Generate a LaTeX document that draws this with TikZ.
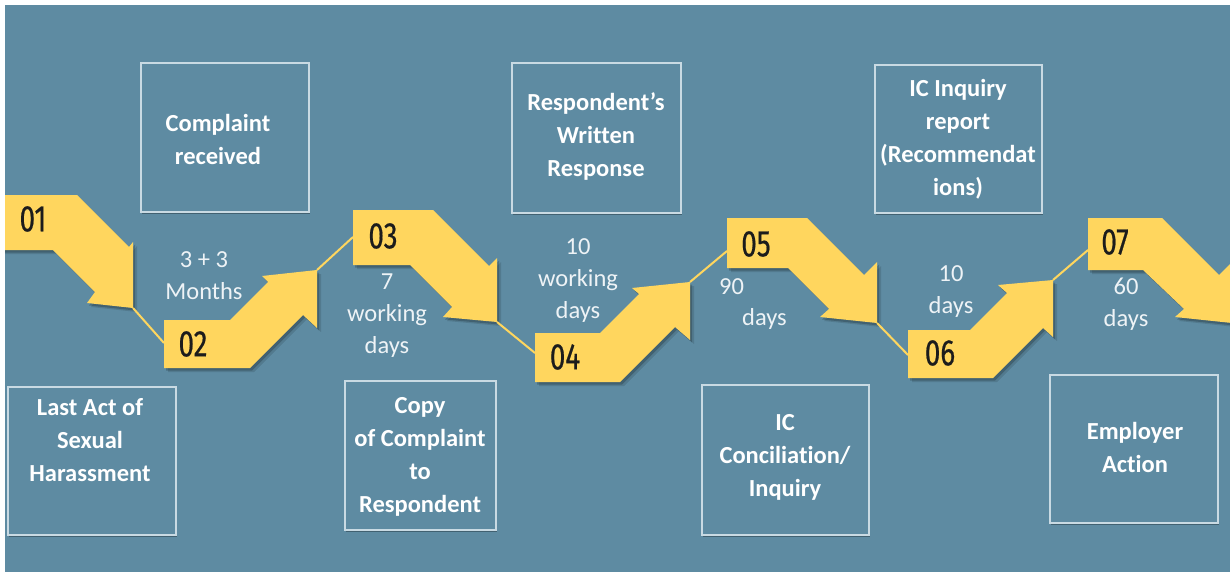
\documentclass[tikz,border=0pt]{standalone}
\usepackage{fontspec}
\setmainfont[Ligatures={TeX,NoCommon}]{Carlito}
\newfontfamily\numfont[FakeStretch=0.75,FakeBold=0.5]{Fira Sans}
\usetikzlibrary{shadows}
\definecolor{bgc}{HTML}{5E8BA2}
\definecolor{ylw}{HTML}{FFD65E}
\definecolor{boxc}{HTML}{C9DAE3}
\definecolor{numc}{HTML}{1C1C1C}
\definecolor{lblc}{HTML}{EEF3F6}
\newcommand\yshape[1]{%
  \begin{scope}[shift={(4,4)}]\fill[black,opacity=.12] #1;\end{scope}
  \begin{scope}[shift={(2,2.5)}]\fill[black,opacity=.2] #1;\end{scope}
  \fill[ylw] #1;}
\begin{document}
\begin{tikzpicture}[x=1pt,y=-1pt,
  boxs/.style={draw=boxc, fill=bgc, line width=1.5pt, inner sep=0pt,
    drop shadow={shadow xshift=1pt, shadow yshift=-1.5pt, opacity=.3, fill=black}},
  boxt/.style={text=white, font=\bfseries\fontsize{24.5}{33}\selectfont, align=center, inner sep=0pt},
  tl/.style={text=lblc, font=\fontsize{24.5}{32}\selectfont, align=center, inner sep=0pt},
  num/.style={text=numc, font=\numfont\fontsize{37}{37}\selectfont, inner sep=0pt},
  conn/.style={draw=ylw, line width=2pt}]
\useasboundingbox (0,0) rectangle (1230,575);
\fill[white] (0,0) rectangle (1230,575);
\fill[bgc] (5,5) rectangle (1230,572);

% boxes
\node[boxs, minimum width=168pt, minimum height=149pt] (b1) at (225,137.5) {};
\node[boxs, minimum width=169pt, minimum height=150pt] (b2) at (596.5,138) {};
\node[boxs, minimum width=167pt, minimum height=148pt] (b3) at (958.5,139) {};
\node[boxs, minimum width=168pt, minimum height=148pt] (b4) at (92,461) {};
\node[boxs, minimum width=151pt, minimum height=149pt] (b5) at (420.5,455.5) {};
\node[boxs, minimum width=167pt, minimum height=150pt] (b6) at (785.5,460) {};
\node[boxs, minimum width=168pt, minimum height=148pt] (b7) at (1134,449) {};

\node[boxt] (bt1) at (218,139) {Complaint\\received};
\node[boxt] (bt2) at (596,137) {Respondent’s\\Written\\Response};
\node[boxt] (bt3) at (958,139) {IC Inquiry\\report\\(Recommendat\\ions)};
\node[boxt] (bt4) at (90,440) {Last Act of\\Sexual\\Harassment};
\node[boxt] (bt5) at (420,457) {Copy\\of Complaint\\to\\Respondent};
\node[boxt] (bt6) at (785,457) {IC\\Conciliation/\\Inquiry};
\node[boxt] (bt7) at (1135,447) {Employer\\Action};

% timeline labels
\node[tl] (m1) at (204,276) {3 + 3\\Months};
\node[tl] (m2) at (387,316) {7\\working\\days};
\node[tl] (m3) at (578,281) {10\\working\\days};
\node[tl, align=left, anchor=west, font=\fontsize{24.5}{31}\selectfont] (m4) at (719,304) {90\\\hspace*{23pt}days};
\node[tl] (m5) at (951,292) {10\\days};
\node[tl] (m6) at (1126,304) {60\\days};

% arrows
\begin{scope}
\clip (5,5) rectangle (1230,572);
\yshape{(-3,195) -- (77,195) -- (129,247) -- (133,242) -- (133,308) -- (87,303) -- (95,292) -- (53,250) -- (-3,250) -- cycle}
\yshape{(164,320) -- (230,320) -- (268,282) -- (262,276) -- (317,270) -- (317,328) -- (303,315) -- (250,368) -- (164,368) -- cycle}
\yshape{(353,210) -- (433,210) -- (489,266) -- (497,258) -- (497,322) -- (443,317) -- (452,307) -- (410,265) -- (353,265) -- cycle}
\yshape{(535,333) -- (600,333) -- (639,294) -- (632,288) -- (690,282) -- (690,340) -- (675,327) -- (620,382) -- (535,382) -- cycle}
\yshape{(727,218) -- (807,218) -- (864,275) -- (877,262) -- (877,323) -- (820,317) -- (829,309) -- (788,268) -- (727,268) -- cycle}
\yshape{(908,330) -- (970,330) -- (1007,293) -- (998,285) -- (1053,280) -- (1053,337) -- (1043,328) -- (993,378) -- (908,378) -- cycle}
\yshape{(1088,218) -- (1162,218) -- (1219,275) -- (1232,262) -- (1232,323) -- (1175,317) -- (1184,309) -- (1143,270) -- (1088,270) -- cycle}
\end{scope}

% connector end points
\coordinate (t1) at (133,308); \coordinate (l2) at (164,343);
\coordinate (t2) at (317,270); \coordinate (l3) at (353,237);
\coordinate (t3) at (497,322); \coordinate (l4) at (535,353);
\coordinate (t4) at (690,282); \coordinate (l5) at (727,251);
\coordinate (t5) at (877,323); \coordinate (l6) at (908,355);
\coordinate (t6) at (1053,280); \coordinate (l7) at (1088,250);
\draw[conn] (t1) -- (l2);
\draw[conn] (t2) -- (l3);
\draw[conn] (t3) -- (l4);
\draw[conn] (t4) -- (l5);
\draw[conn] (t5) -- (l6);
\draw[conn] (t6) -- (l7);

% numbers
\node[num] (n01) at (33,219) {01};
\node[num] (n02) at (193,344) {02};
\node[num] (n03) at (383,236) {03};
\node[num] (n04) at (565,357) {04};
\node[num] (n05) at (756,244) {05};
\node[num] (n06) at (940,353) {06};
\node[num] (n07) at (1115,242) {07};
\end{tikzpicture}
\end{document}
